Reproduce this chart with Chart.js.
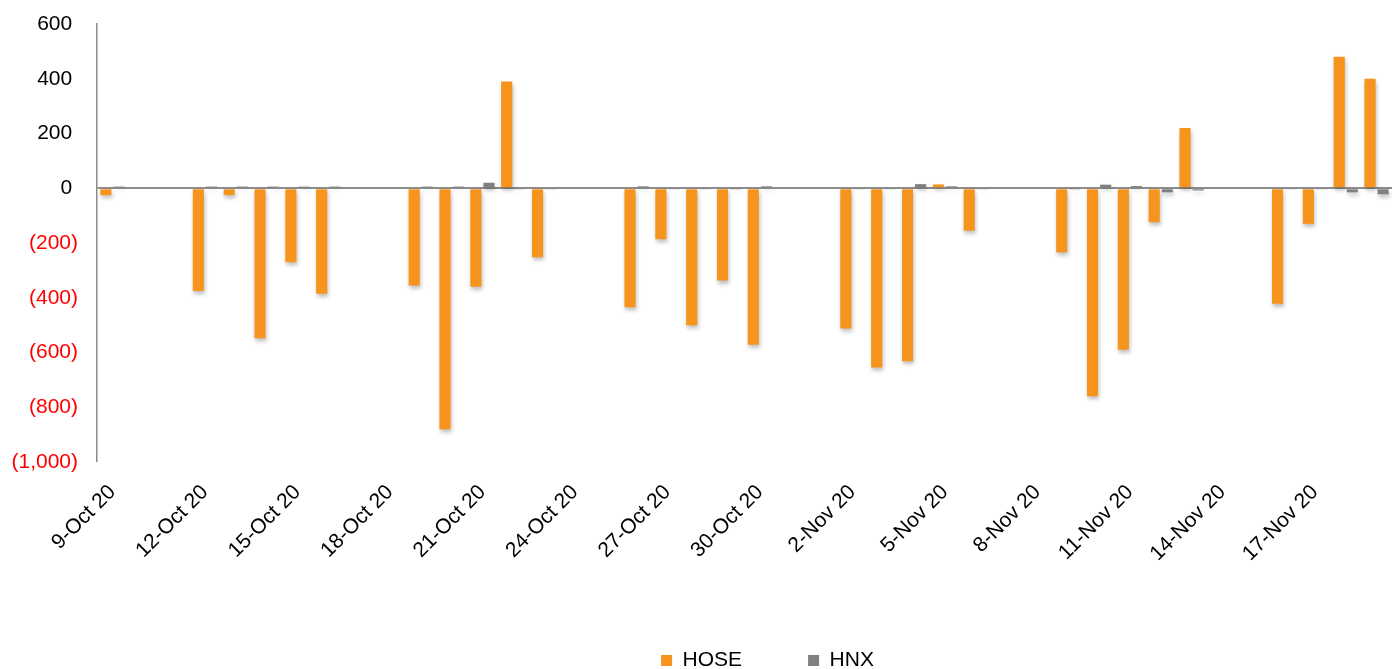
<!DOCTYPE html>
<html>
<head>
<meta charset="utf-8">
<title>HOSE / HNX</title>
<script src="https://cdn.jsdelivr.net/npm/chart.js@4.4.1/dist/chart.umd.min.js"></script>
<style>
    html, body { margin: 0; padding: 0; background: #fff; }
    #wrap { width: 1395px; height: 669px; position: relative; }
</style>
</head>
<body>
<div id="wrap"><canvas id="chart"></canvas></div>
<script>
// Calendar days on the axis (weekends stay empty)
const dates = [
    '9-Oct 20', '10-Oct 20', '11-Oct 20', '12-Oct 20', '13-Oct 20', '14-Oct 20', '15-Oct 20',
    '16-Oct 20', '17-Oct 20', '18-Oct 20', '19-Oct 20', '20-Oct 20', '21-Oct 20', '22-Oct 20',
    '23-Oct 20', '24-Oct 20', '25-Oct 20', '26-Oct 20', '27-Oct 20', '28-Oct 20', '29-Oct 20',
    '30-Oct 20', '31-Oct 20', '1-Nov 20', '2-Nov 20', '3-Nov 20', '4-Nov 20', '5-Nov 20',
    '6-Nov 20', '7-Nov 20', '8-Nov 20', '9-Nov 20', '10-Nov 20', '11-Nov 20', '12-Nov 20',
    '13-Nov 20', '14-Nov 20', '15-Nov 20', '16-Nov 20', '17-Nov 20', '18-Nov 20', '19-Nov 20'
];
const hose = [
    -25, null, null, -375, -25, -548, -270, -385, null, null, -355, -880, -360, 390,
    -252, null, null, -435, -186, -500, -337, -572, null, null, -512, -655, -632, 14,
    -155, null, null, -234, -760, -590, -124, 220, null, null, -422, -130, 480, 400
];
const hnx = [
    6, null, null, 6, 6, 6, 6, 6, null, null, 6, 6, 20, -3,
    -3, null, null, 7, -3, -3, -2, 7, null, null, -3, -3, 15, 7,
    -3, null, null, -2, 13, 8, -15, -8, null, null, -3, -3, -15, -22
];
const yTicks = [600, 400, 200, 0, -200, -400, -600, -800, -1000];
const labelEvery = 3;

const FONT = "'Liberation Sans', Arial, sans-serif";
const AXIS_GREY = '#8c8c8c';

// soft drop shadow under the bars, like the spreadsheet original
const barShadow = {
    id: 'barShadow',
    beforeDatasetsDraw(chart) {
        const c = chart.ctx;
        c.save();
        c.shadowColor = 'rgba(0,0,0,0.26)';
        c.shadowBlur = 4;
        c.shadowOffsetX = 1;
        c.shadowOffsetY = 3;
    },
    afterDatasetsDraw(chart) { chart.ctx.restore(); }
};

// nudge the legend row to where the original sits
const legendNudge = {
    id: 'legendNudge',
    afterLayout(chart) {
        const lg = chart.legend;
        if (!lg) return;
        lg.left += 66; lg.right += 66;
        lg.top += 12; lg.bottom += 12;
    }
};

// excel style "#,##0_);(#,##0)"
function fmtTick(v) {
    const s = Math.abs(v).toLocaleString('en-US');
    return v < 0 ? '(' + s + ')' : s + ' ';
}

new Chart(document.getElementById('chart'), {
    type: 'bar',
    data: {
        labels: dates,
        datasets: [
            { label: 'HOSE', data: hose, backgroundColor: '#f7941d', borderWidth: 0,
                categoryPercentage: 0.85, barPercentage: 0.85 },
            { label: 'HNX', data: hnx, backgroundColor: '#808080', borderWidth: 0,
                categoryPercentage: 0.85, barPercentage: 0.85 },
        ],
    },
    options: {
        responsive: true,
        maintainAspectRatio: false,
        animation: false,
        layout: { padding: { left: 11, right: 3, top: 24, bottom: 0 } },
        plugins: {
            tooltip: { enabled: false },
            legend: {
                position: 'bottom',
                labels: { color: '#000', font: { family: FONT, size: 21 }, boxWidth: 11, boxHeight: 11,
                    padding: 66 },
            },
        },
        scales: {
            x: {
                grid: { display: false },
                border: { display: false },
                ticks: {
                    autoSkip: false, minRotation: 45, maxRotation: 45, padding: 10,
                    color: '#000', font: { family: FONT, size: 21 },
                    callback: (v, i) => i % labelEvery === 0 ? dates[i] : '',
                },
                afterFit: s => { s.height = 110; s.paddingLeft = 0; s.paddingRight = 0; },
            },
            y: {
                min: yTicks[yTicks.length - 1],
                max: yTicks[0],
                afterBuildTicks: s => { s.ticks = yTicks.map(v => ({ value: v })); },
                afterFit: s => { s.width = 86; s.paddingTop = 0; s.paddingBottom = 0; },
                grid: {
                    drawTicks: false,
                    color: c => c.tick && c.tick.value === 0 ? AXIS_GREY : 'transparent',
                    lineWidth: c => c.tick && c.tick.value === 0 ? 2 : 0,
                },
                border: { display: true, color: AXIS_GREY, width: 1.5 },
                ticks: {
                    padding: 19,
                    font: { family: FONT, size: 21 },
                    color: c => c.tick.value < 0 ? '#ff0000' : '#000',
                    callback: v => fmtTick(v),
                },
            },
        },
    },
    plugins: [barShadow, legendNudge],
});
</script>
</body>
</html>
